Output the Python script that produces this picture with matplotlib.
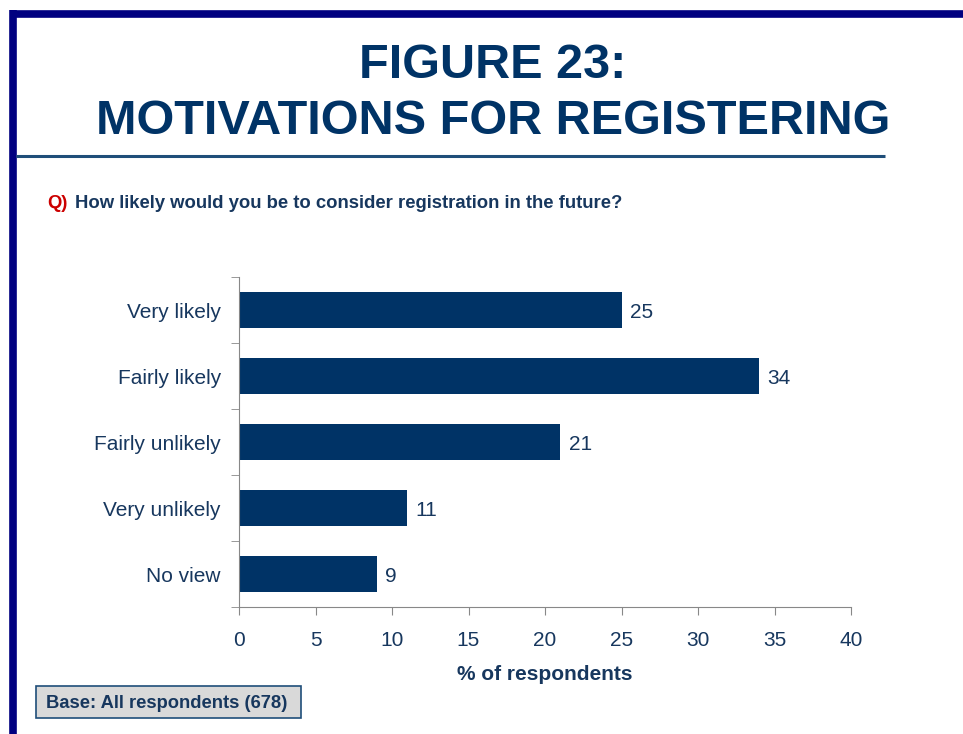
import matplotlib.pyplot as plt
from matplotlib.patches import Rectangle
from matplotlib.lines import Line2D

plt.rcParams['font.family'] = ['Liberation Sans', 'DejaVu Sans']

categories = ['Very likely', 'Fairly likely', 'Fairly unlikely', 'Very unlikely', 'No view']
values = [25, 34, 21, 11, 9]
x_ticks = [0, 5, 10, 15, 20, 25, 30, 35, 40]

navy = '#003366'
text_navy = '#17375E'
frame_blue = '#000080'

W, H = 963, 734
fig = plt.figure(figsize=(W / 100, H / 100), dpi=100)

# frame around the slide: top and left edges
fig.add_artist(Line2D([10 / W, 1], [1 - 13.5 / H] * 2, color=frame_blue, lw=5.5,
                      solid_capstyle='butt'))
fig.add_artist(Line2D([13 / W] * 2, [0, 1 - 10 / H], color=frame_blue, lw=5.5,
                      solid_capstyle='butt'))
# rule under the title
fig.add_artist(Line2D([16 / W, 885 / W], [1 - 155.5 / H] * 2, color='#1F4E79', lw=2.2,
                      solid_capstyle='butt'))

fig.text(493 / W, 1 - 65 / H, 'FIGURE 23:', ha='center', va='center',
         fontsize=35, fontweight='bold', color=navy)
fig.text(493 / W, 1 - 122 / H, 'MOTIVATIONS FOR REGISTERING', ha='center', va='center',
         fontsize=35, fontweight='bold', color=navy)

fig.text(47 / W, 1 - 203 / H, 'Q)', ha='left', va='center',
         fontsize=13.3, fontweight='bold', color='#CC0000')
fig.text(75 / W, 1 - 203 / H, 'How likely would you be to consider registration in the future?',
         ha='left', va='center', fontsize=13.3, fontweight='bold', color=text_navy)

ax = fig.add_axes([239 / W, 1 - 607 / H, (851 - 239) / W, (607 - 277) / H])
y = list(range(len(categories)))
ax.barh(y, values, height=0.55, color=navy)
for yi, v in zip(y, values):
    ax.text(v + 0.55, yi, str(v), va='center_baseline', ha='left', fontsize=15, color=text_navy)

ax.set_xlim(0, 40)
ax.set_ylim(len(categories) - 0.5, -0.5)
ax.set_xticks(x_ticks)
ax.set_xticklabels([str(t) for t in x_ticks], fontsize=15, color=text_navy)
ax.set_yticks(y)
ax.set_yticklabels(categories, fontsize=15, color=text_navy)
ax.tick_params(axis='y', length=0, pad=13)
ax.set_yticks([i - 0.5 for i in range(len(categories) + 1)], minor=True)
ax.tick_params(axis='y', which='minor', length=6, color='#888888')
ax.tick_params(axis='x', length=6, color='#888888', pad=11)
for s in ['top', 'right']:
    ax.spines[s].set_visible(False)
ax.spines['left'].set_color('#888888')
ax.spines['bottom'].set_color('#888888')
ax.set_xlabel('% of respondents', fontsize=15, fontweight='bold', color=text_navy, labelpad=11)

# base note box
fig.add_artist(Rectangle((36 / W, 1 - 718 / H), (301 - 36) / W, 32 / H,
                         facecolor='#D9D9D9', edgecolor='#1F4E79', lw=1.2))
fig.text(46 / W, 1 - 703 / H, 'Base: All respondents (678)', ha='left', va='center',
         fontsize=13.2, fontweight='bold', color=text_navy)

fig.savefig('out.png', dpi=100)
